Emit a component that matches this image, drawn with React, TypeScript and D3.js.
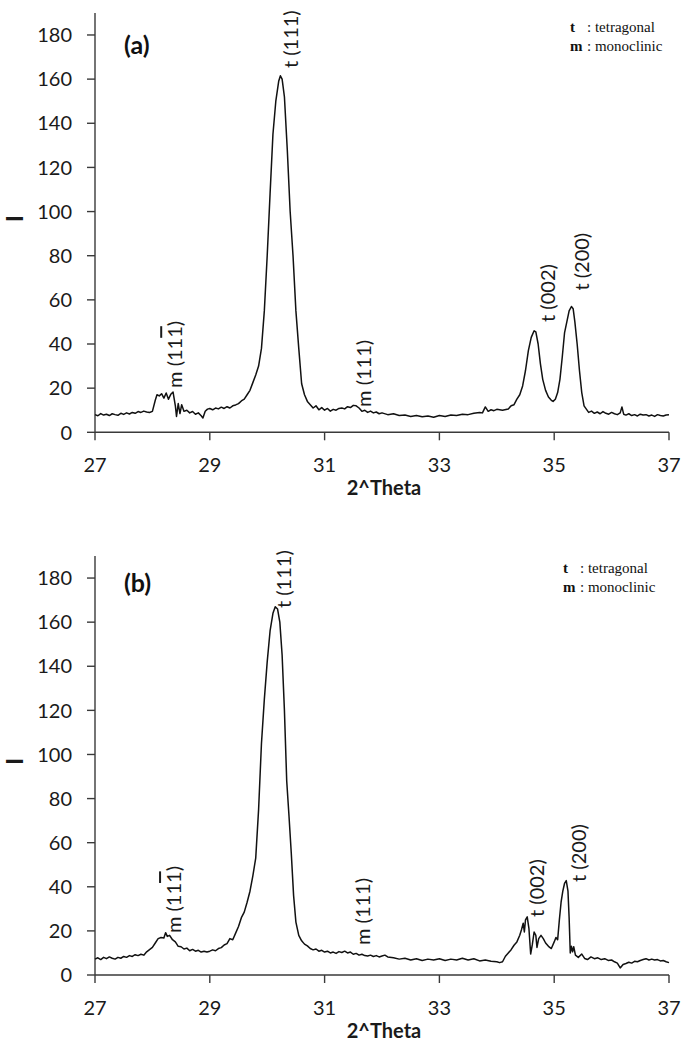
import React from "react";
import * as d3 from "d3";

// ---------- data ----------
const xTicks = [27, 29, 31, 33, 35, 37];
const yTicks = [0, 20, 40, 60, 80, 100, 120, 140, 160, 180];
const xTitle = "2^Theta";
const yTitle = "I";

const thetaA = [
  27.0, 27.05, 27.1, 27.15, 27.2, 27.25, 27.3, 27.35, 27.4, 27.45, 27.5, 27.55, 27.6, 27.65, 27.7, 27.75, 27.8, 27.85, 27.9, 27.95,
  28.0, 28.05, 28.08, 28.12, 28.16, 28.2, 28.24, 28.28, 28.32, 28.36, 28.4, 28.42, 28.45, 28.48, 28.51, 28.55, 28.6, 28.65, 28.7, 28.75,
  28.8, 28.85, 28.88, 28.92, 28.96, 29.0, 29.05, 29.1, 29.15, 29.2, 29.25, 29.3, 29.35, 29.4, 29.45, 29.5, 29.55, 29.6, 29.65, 29.7,
  29.75, 29.8, 29.85, 29.9, 29.95, 30.0, 30.05, 30.1, 30.15, 30.2, 30.23, 30.26, 30.3, 30.35, 30.4, 30.45, 30.5, 30.55, 30.6, 30.65,
  30.7, 30.75, 30.8, 30.85, 30.9, 30.95, 31.0, 31.05, 31.1, 31.15, 31.2, 31.25, 31.3, 31.35, 31.4, 31.45, 31.5, 31.55, 31.6, 31.65,
  31.7, 31.75, 31.8, 31.85, 31.9, 31.95, 32.0, 32.1, 32.2, 32.3, 32.4, 32.5, 32.6, 32.7, 32.8, 32.9, 33.0, 33.1, 33.2, 33.3,
  33.4, 33.5, 33.6, 33.7, 33.75, 33.8, 33.85, 33.9, 33.95, 34.0, 34.1, 34.2, 34.25, 34.3, 34.35, 34.4, 34.45, 34.5, 34.55, 34.6,
  34.65, 34.68, 34.72, 34.76, 34.8, 34.85, 34.9, 34.95, 34.98, 35.02, 35.06, 35.1, 35.14, 35.18, 35.22, 35.26, 35.3, 35.33, 35.36, 35.4,
  35.44, 35.48, 35.52, 35.56, 35.6, 35.65, 35.7, 35.75, 35.8, 35.85, 35.9, 35.95, 36.0, 36.05, 36.1, 36.15, 36.18, 36.21, 36.25, 36.3,
  36.35, 36.4, 36.45, 36.5, 36.55, 36.6, 36.65, 36.7, 36.75, 36.8, 36.85, 36.9, 36.95, 37.0,
];
const intensityA = [
  8.0, 7.5, 8.5, 7.8, 8.2, 7.6, 8.4, 8.0, 7.7, 8.6, 8.1, 8.8, 8.3, 9.0, 8.6, 9.4, 9.0, 9.6, 9.2, 9.0,
  9.5, 14.5, 17.0, 16.5, 17.5, 15.5, 17.8, 15.0, 17.2, 18.2, 12.0, 7.2, 13.0, 8.5, 12.5, 9.5, 10.0, 8.8, 9.4, 8.2,
  8.8, 7.5, 6.5, 9.5, 10.5, 10.8, 10.2, 11.0, 10.6, 11.4, 10.8, 11.6, 11.0, 12.0, 12.4, 13.0, 14.2, 15.0, 17.0, 19.0,
  22.5, 26.0, 30.0, 38.0, 55.0, 80.0, 108.0, 135.0, 150.0, 159.0, 161.5, 160.0, 152.0, 128.0, 100.0, 80.0, 55.0, 38.0, 22.0, 17.0,
  14.0, 12.5, 11.0, 12.0, 10.2, 11.2, 10.0, 10.8, 9.6, 10.4, 10.0, 10.8, 11.0, 10.6, 11.6, 11.2, 12.2, 12.0, 11.0, 9.5,
  10.0, 9.0, 9.6, 8.8, 9.2, 8.4, 8.8, 8.0, 8.4, 7.6, 7.8, 7.2, 7.6, 7.0, 7.4, 6.8, 7.6, 7.2, 7.8, 7.6,
  8.2, 8.0, 8.6, 9.0, 8.8, 11.5, 9.5, 10.2, 9.8, 10.4, 10.0, 10.6, 12.0, 12.5, 15.0, 17.0, 21.0, 28.0, 37.0, 43.0,
  46.0, 45.5, 40.0, 31.0, 24.0, 19.0, 16.0, 14.5, 14.0, 15.0, 18.0, 24.0, 34.0, 45.0, 50.0, 55.0, 57.0, 56.0, 50.0, 40.0,
  28.0, 18.0, 12.0, 10.5, 9.0, 9.6, 8.6, 9.2, 8.4, 9.4, 8.6, 8.2, 9.0, 8.4, 8.0, 8.8, 11.5, 8.2, 7.8, 8.4,
  7.6, 8.0, 7.4, 8.2, 7.8, 8.0, 7.4, 7.8, 7.2, 8.0, 7.6, 7.4, 7.8, 8.0,
];

const thetaB = [
  27.0, 27.05, 27.1, 27.15, 27.2, 27.25, 27.3, 27.35, 27.4, 27.45, 27.5, 27.55, 27.6, 27.65, 27.7, 27.75, 27.8, 27.85, 27.9, 27.95,
  28.0, 28.05, 28.1, 28.15, 28.2, 28.23, 28.26, 28.3, 28.35, 28.4, 28.45, 28.5, 28.55, 28.6, 28.65, 28.7, 28.75, 28.8, 28.85, 28.9,
  28.95, 29.0, 29.05, 29.1, 29.15, 29.2, 29.25, 29.3, 29.35, 29.4, 29.45, 29.5, 29.55, 29.6, 29.65, 29.7, 29.75, 29.8, 29.85, 29.9,
  29.95, 30.0, 30.05, 30.1, 30.14, 30.18, 30.22, 30.26, 30.3, 30.34, 30.38, 30.42, 30.46, 30.5, 30.55, 30.6, 30.65, 30.7, 30.75, 30.8,
  30.85, 30.9, 30.95, 31.0, 31.05, 31.1, 31.15, 31.2, 31.25, 31.3, 31.35, 31.4, 31.45, 31.5, 31.55, 31.6, 31.65, 31.7, 31.75, 31.8,
  31.85, 31.9, 31.95, 32.0, 32.05, 32.1, 32.2, 32.3, 32.4, 32.5, 32.6, 32.7, 32.8, 32.9, 33.0, 33.1, 33.2, 33.3, 33.4, 33.5,
  33.6, 33.7, 33.8, 33.9, 34.0, 34.05, 34.1, 34.15, 34.2, 34.25, 34.3, 34.35, 34.4, 34.43, 34.46, 34.48, 34.5, 34.53, 34.56, 34.59,
  34.62, 34.65, 34.68, 34.7, 34.73, 34.77, 34.81, 34.85, 34.9, 34.95, 35.0, 35.03, 35.06, 35.09, 35.12, 35.15, 35.18, 35.21, 35.24, 35.26,
  35.28, 35.3, 35.32, 35.34, 35.37, 35.42, 35.48, 35.53, 35.58, 35.64, 35.7, 35.76, 35.82, 35.88, 35.94, 36.0, 36.05, 36.1, 36.15, 36.2,
  36.25, 36.3, 36.35, 36.4, 36.45, 36.5, 36.55, 36.6, 36.65, 36.7, 36.75, 36.8, 36.85, 36.9, 36.95, 37.0,
];
const intensityB = [
  7.2, 7.8, 7.0, 8.0, 7.4, 8.2, 7.6, 7.2, 8.0, 7.6, 8.4, 8.0, 8.8, 8.4, 9.2, 8.8, 9.4, 9.0, 10.5, 11.5,
  12.5, 14.5, 16.5, 17.0, 16.8, 19.2, 17.5, 18.0, 16.0, 15.0, 13.0, 12.8, 11.8, 12.2, 11.0, 11.6, 10.8, 11.2, 10.4, 10.8,
  10.4, 10.8, 11.4, 11.0, 12.0, 12.4, 13.6, 14.2, 16.5, 16.0, 19.0, 22.0, 26.0, 28.5, 33.0, 38.0, 45.0, 53.0, 75.0, 105.0,
  125.0, 142.0, 156.0, 164.0, 167.0, 166.0, 160.0, 145.0, 120.0, 88.0, 72.0, 55.0, 36.0, 24.0, 18.0, 15.5, 14.0, 13.2, 12.0, 11.4,
  11.8, 10.8, 11.2, 10.4, 10.8, 10.0, 10.4, 9.8, 10.6, 10.2, 10.8, 10.0, 10.4, 9.4, 9.8, 9.0, 9.4, 8.8, 8.6, 9.0,
  8.4, 8.8, 8.2, 8.6, 9.0, 8.2, 7.8, 7.2, 7.6, 6.8, 7.4, 6.6, 7.2, 6.8, 7.4, 6.6, 7.2, 6.8, 7.6, 6.8,
  7.4, 6.4, 6.8, 6.2, 6.0, 5.6, 6.0, 8.5, 10.0, 11.5, 13.5, 15.0, 18.0, 20.5, 23.5, 19.5, 25.0, 26.4, 21.0, 9.5,
  14.0, 19.5, 18.0, 12.5, 16.5, 18.0, 16.5, 14.5, 13.0, 12.0, 15.0, 17.0, 16.0, 25.0, 33.0, 38.0, 41.5, 42.8, 38.0, 26.0,
  10.0, 13.0, 10.5, 12.8, 9.0, 8.0, 9.5, 7.5, 7.0, 8.2, 7.4, 7.8, 7.0, 7.4, 6.6, 6.8, 6.0, 5.4, 3.2, 4.8,
  5.2, 5.8, 5.4, 6.2, 6.0, 6.6, 7.0, 7.4, 6.8, 7.2, 6.8, 7.0, 6.4, 6.6, 6.0, 5.6,
];

// peak annotations: [plain text, overlined suffix], theta, intensity where the label starts
const labelTextA = ["m (11", "t (111)", "m (111)", "t (002)", "t (200)"];
const labelBarA = ["1", "", "", "", ""];
const labelThetaA = [28.38, 30.4, 31.67, 34.87, 35.47];
const labelIntA = [20.1, 165.0, 11.5, 50.0, 64.2];

const labelTextB = ["m (11", "t (111)", "m (111)", "t (002)", "t (200)"];
const labelBarB = ["1", "", "", "", ""];
const labelThetaB = [28.36, 30.28, 31.65, 34.68, 35.41];
const labelIntB = [19.0, 166.4, 13.6, 26.3, 42.2];

const panelTags = ["(a)", "(b)"];
const legendKeys = ["t", "m"];
const legendNames = ["tetragonal", "monoclinic"];

// ---------- drawing ----------
const W = 685;
const H = 1045;
const SANS = "Lato, 'Open Sans', 'Liberation Sans', sans-serif";
const SERIF = "'Liberation Serif', 'DejaVu Serif', serif";

type PanelProps = {
  theta: number[];
  intensity: number[];
  labelText: string[];
  labelBar: string[];
  labelTheta: number[];
  labelInt: number[];
  tag: string;
  top: number;
  bottom: number;
  tagY: number;
  legendX: number;
  legendY: number;
};

function Panel(p: PanelProps) {
  const x = d3.scaleLinear().domain([27, 37]).range([95, 669]);
  const y = d3.scaleLinear().domain([0, 190]).range([p.bottom, p.top]);
  const pts = p.theta.map((t, i) => [t, p.intensity[i]] as [number, number]);
  const line = d3
    .line<[number, number]>()
    .x((d) => x(d[0]))
    .y((d) => y(d[1]));
  const axisColor = "#3a3a3a";
  const textColor = "#1a1a1a";
  return (
    <g>
      {/* y axis */}
      <line x1={95} x2={95} y1={y(190)} y2={y(0)} stroke={axisColor} strokeWidth={1.4} />
      {yTicks.map((t) => (
        <g key={"y" + t}>
          <line x1={87} x2={95} y1={y(t)} y2={y(t)} stroke={axisColor} strokeWidth={1.4} />
          <text x={72} y={y(t)} dy="0.36em" textAnchor="end" fontFamily={SANS} fontSize={20} fill={textColor}>
            {t}
          </text>
        </g>
      ))}
      {/* x axis */}
      <line x1={x(27)} x2={x(37)} y1={y(0)} y2={y(0)} stroke={axisColor} strokeWidth={1.4} />
      {xTicks.map((t) => (
        <g key={"x" + t}>
          <line x1={x(t)} x2={x(t)} y1={y(0)} y2={y(0) + 8} stroke={axisColor} strokeWidth={1.4} />
          <text x={x(t)} y={y(0) + 40} textAnchor="middle" fontFamily={SANS} fontSize={20} fill={textColor}>
            {t}
          </text>
        </g>
      ))}
      <text x={384} y={y(0) + 63} textAnchor="middle" fontFamily={SANS} fontWeight="bold" fontSize={20} fill={textColor}>
        {xTitle}
      </text>
      <text
        transform={`translate(14, ${(y(0) + y(190)) / 2 - 4}) rotate(-90)`}
        textAnchor="middle"
        dominantBaseline="central"
        fontFamily={SANS}
        fontWeight="900"
        fontSize={22}
        fill={textColor}
      >
        {yTitle}
      </text>
      {/* data line */}
      <path d={line(pts) || ""} fill="none" stroke="#111" strokeWidth={1.5} strokeLinejoin="round" />
      {/* peak labels */}
      {p.labelText.map((s, i) => (
        <text
          key={"l" + i}
          transform={`translate(${x(p.labelTheta[i])}, ${y(p.labelInt[i])}) rotate(-90)`}
          dominantBaseline="central"
          textAnchor="start"
          fontFamily={SANS}
          fontSize={20}
          fill={textColor}
        >
          {s}
          {p.labelBar[i] ? (
            <>
              <tspan style={{ textDecoration: "overline" }}>{p.labelBar[i]}</tspan>
              <tspan>)</tspan>
            </>
          ) : null}
        </text>
      ))}
      {/* panel tag */}
      <text x={124} y={p.tagY} dy="0.35em" fontFamily={SANS} fontWeight="bold" fontSize={25} fill="#111">
        {p.tag}
      </text>
      {/* legend */}
      {legendKeys.map((k, i) => (
        <g key={"g" + k} fill="#111">
          <text x={p.legendX} y={p.legendY + i * 18.5} dy="0.35em" fontFamily={SERIF} fontWeight="bold" fontSize={15}>
            {k}
          </text>
          <text x={p.legendX + 17} y={p.legendY + i * 18.5} dy="0.35em" fontFamily={SERIF} fontSize={15}>
            {": " + legendNames[i]}
          </text>
        </g>
      ))}
    </g>
  );
}

export default function App() {
  return (
    <svg
      width={W}
      height={H}
      viewBox={`0 0 ${W} ${H}`}
      style={{ position: "absolute", left: 0, top: 0, background: "#fff" }}
    >
      <rect x={0} y={0} width={W} height={H} fill="#fff" />
      <Panel
        theta={thetaA}
        intensity={intensityA}
        labelText={labelTextA}
        labelBar={labelBarA}
        labelTheta={labelThetaA}
        labelInt={labelIntA}
        tag={panelTags[0]}
        top={12.9}
        bottom={432.3}
        tagY={45.5}
        legendX={570}
        legendY={27}
      />
      <Panel
        theta={thetaB}
        intensity={intensityB}
        labelText={labelTextB}
        labelBar={labelBarB}
        labelTheta={labelThetaB}
        labelInt={labelIntB}
        tag={panelTags[1]}
        top={556}
        bottom={975}
        tagY={583.5}
        legendX={563}
        legendY={568}
      />
    </svg>
  );
}
